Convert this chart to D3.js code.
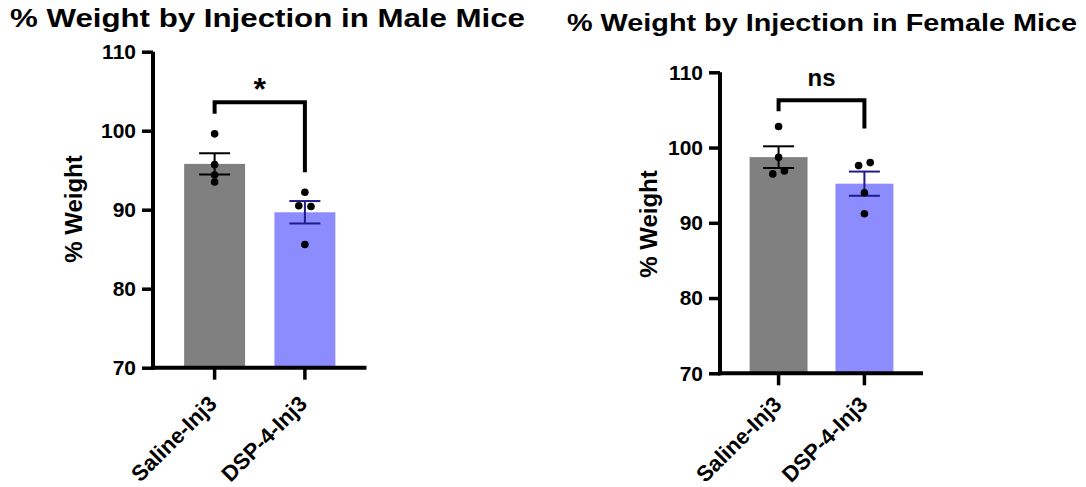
<!DOCTYPE html>
<html>
<head>
<meta charset="utf-8">
<script src="https://cdn.jsdelivr.net/npm/d3@7"></script>
<style>
  body { margin: 0; background: #fff; }
  text { font-family: "Liberation Sans", Arial, sans-serif; font-weight: bold; fill: #000; }
</style>
</head>
<body>
<script>
var width = 1086,
    height = 487;

// groups on the x axis
var groups = ["Saline-Inj3", "DSP-4-Inj3"];
var yTicks = [70, 80, 90, 100, 110];

// individual animals, % weight
var maleSaline = [99.6, 95.7, 94.4, 93.5];
var maleDsp = [92.2, 90.5, 90.4, 85.6];
var femaleSaline = [102.8, 98.7, 96.5, 96.9];
var femaleDsp = [97.6, 98.0, 94.0, 91.2];

// sideways spread of overlapping dots (fraction of bar width)
var maleSalineJitter = [0, 0, 0, 0];
var maleDspJitter = [0, -0.1, 0.1, 0];
var femaleSalineJitter = [0, 0, -0.1, 0.1];
var femaleDspJitter = [-0.1, 0.1, 0, 0];

// significance brackets: [top, left end, right end] in % weight
var maleBracket = [103.6, 102.4, 95.0];
var femaleBracket = [106.3, 105.1, 102.8];

var titles = ["% Weight by Injection in Male Mice", "% Weight by Injection in Female Mice"];
var sigLabels = ["*", "ns"];

var barColors = ["#808080", "#8c8cff"];
var errColors = ["#000", "#1c1c8c"];

function mean(a) { return d3.mean(a); }
function sem(a) { return d3.deviation(a) / Math.sqrt(a.length); }

var svg = d3.select("body").append("svg")
    .attr("width", width)
    .attr("height", height);

var panels = [
  { title: titles[0], titleX: 10, titleY: 27, titleLen: 515, titleSize: 25,
    x0: 153, x1: 366.5, y0: 367.7, y1: 51.7,
    yLabelX: 82, yLabelY: 209, xLab: [-2, 32],
    values: [maleSaline, maleDsp], jitter: [maleSalineJitter, maleDspJitter],
    bracket: maleBracket, sig: sigLabels[0], sigSize: 32, sigDy: 2 },
  { title: titles[1], titleX: 567, titleY: 31, titleLen: 510, titleSize: 24,
    x0: 720, x1: 923, y0: 373.3, y1: 72.3,
    yLabelX: 657, yLabelY: 224, xLab: [-1, 27],
    values: [femaleSaline, femaleDsp], jitter: [femaleSalineJitter, femaleDspJitter],
    bracket: femaleBracket, sig: sigLabels[1], sigSize: 24, sigDy: 14 }
];

panels.forEach(function(p) {
  var g = svg.append("g");

  var x = d3.scaleBand()
      .domain(groups)
      .range([p.x0, p.x1])
      .paddingInner(0.325)
      .paddingOuter(0.345);

  var y = d3.scaleLinear()
      .domain([70, 110])
      .range([p.y0, p.y1]);

  g.append("text")
      .attr("x", p.titleX)
      .attr("y", p.titleY)
      .attr("textLength", p.titleLen)
      .attr("lengthAdjust", "spacingAndGlyphs")
      .style("font-size", p.titleSize + "px")
      .text(p.title);

  // bars
  g.selectAll(".bar")
      .data(groups)
      .enter().append("rect")
      .attr("x", function(d) { return x(d); })
      .attr("width", x.bandwidth())
      .attr("y", function(d, i) { return y(mean(p.values[i])); })
      .attr("height", function(d, i) { return y(70) - y(mean(p.values[i])); })
      .style("fill", function(d, i) { return barColors[i]; });

  // error bars (mean +- SEM) and dots
  groups.forEach(function(grp, i) {
    var cx = x(grp) + x.bandwidth() / 2,
        m = mean(p.values[i]),
        s = sem(p.values[i]),
        capW = 15.5;
    var e = g.append("g")
        .style("stroke", errColors[i])
        .style("stroke-width", 2);
    e.append("line").attr("x1", cx).attr("x2", cx).attr("y1", y(m + s)).attr("y2", y(m - s));
    e.append("line").attr("x1", cx - capW).attr("x2", cx + capW).attr("y1", y(m + s)).attr("y2", y(m + s));
    e.append("line").attr("x1", cx - capW).attr("x2", cx + capW).attr("y1", y(m - s)).attr("y2", y(m - s));

    g.selectAll(".dot" + i)
        .data(p.values[i])
        .enter().append("circle")
        .attr("cx", function(d, j) { return cx + p.jitter[i][j] * x.bandwidth(); })
        .attr("cy", function(d) { return y(d); })
        .attr("r", 3.8)
        .style("fill", "#000");
  });

  // axes
  var yAxis = g.append("g")
      .attr("transform", "translate(" + p.x0 + ",0)")
      .call(d3.axisLeft(y).tickValues(yTicks).tickSize(11).tickSizeOuter(0).tickPadding(6));

  var xAxis = g.append("g")
      .attr("transform", "translate(0," + p.y0 + ")")
      .call(d3.axisBottom(x).tickSize(12).tickSizeOuter(0));

  [yAxis, xAxis].forEach(function(a) {
    a.select(".domain").style("stroke", "#000").style("stroke-width", 4);
    a.selectAll(".tick line").style("stroke", "#000").style("stroke-width", 3.5);
    a.selectAll("text").style("font-size", "21px").style("font-family", "Liberation Sans, Arial, sans-serif").style("font-weight", "bold").style("fill", "#000");
  });
  yAxis.select(".domain").attr("d", "M0," + (p.y0 + 2) + "V" + p.y1);
  xAxis.select(".domain").attr("d", "M" + (p.x0 - 2) + ",0H" + p.x1);

  xAxis.selectAll(".tick text")
      .attr("x", 0)
      .attr("y", 0)
      .attr("text-anchor", "end")
      .attr("dy", "0.35em")
      .attr("transform", "translate(" + p.xLab[0] + "," + p.xLab[1] + ") rotate(-45)")
      .style("font-size", "22px");

  g.append("text")
      .attr("transform", "translate(" + p.yLabelX + "," + p.yLabelY + ") rotate(-90)")
      .attr("text-anchor", "middle")
      .style("font-size", "24px")
      .text("% Weight");

  // significance bracket
  var bx1 = x(groups[0]) + x.bandwidth() / 2,
      bx2 = x(groups[1]) + x.bandwidth() / 2;
  g.append("path")
      .attr("d", "M" + bx1 + "," + y(p.bracket[1]) + "V" + y(p.bracket[0]) +
                 "H" + bx2 + "V" + y(p.bracket[2]))
      .style("fill", "none")
      .style("stroke", "#000")
      .style("stroke-width", 4)
      .style("stroke-linejoin", "miter")
      .style("stroke-linecap", "square");

  g.append("text")
      .attr("x", (bx1 + bx2) / 2)
      .attr("y", y(p.bracket[0]) - p.sigDy)
      .attr("text-anchor", "middle")
      .style("font-size", p.sigSize + "px")
      .text(p.sig);
});
</script>
</body>
</html>
